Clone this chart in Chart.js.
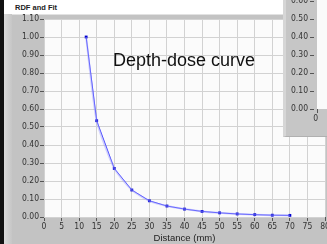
<!DOCTYPE html>
<html>
<head>
<meta charset="utf-8">
<script src="https://cdn.jsdelivr.net/npm/chart.js@4"></script>
<style>
  html, body { margin: 0; padding: 0; }
  body { width: 327px; height: 244px; overflow: hidden; position: relative; background: #fff; }
  #frame { position: absolute; left: 4px; top: 14px; width: 340px; height: 230px; background: #c3c3c3;
           border-top: 1px solid #e2e2e2; box-sizing: border-box; }
  #bevel { position: absolute; left: 4px; top: 14px; width: 8px; height: 230px;
           background: linear-gradient(to right, #dadada, #c6c6c6); }
  #black { position: absolute; left: 0; top: 0; width: 4px; height: 244px; background: #111; }
  #title { position: absolute; left: 15px; top: 4px; font: bold 7.5px 'Liberation Sans', Arial, sans-serif;
           line-height: 8px; color: #222; }
  #wrap { position: absolute; left: 0; top: 0; width: 340px; height: 244px; }
  #note { position: absolute; left: 113px; top: 51px; font: 18px 'Liberation Sans', Arial, sans-serif;
          line-height: 18px; color: #111; white-space: nowrap; }
  #panel { position: absolute; left: 283px; top: 0; width: 44px; height: 137px; background: #c6c6c6;
           border-left: 3px solid #d6d6d6; border-bottom: 1px solid #b0b0b0; box-sizing: border-box; }
  #panelPlot { position: absolute; left: 317px; top: 0; width: 10px; height: 109px; background: #fafafa; }
  .plab { position: absolute; width: 40px; text-align: right; color: #333;
          font: 8.5px 'Liberation Sans Narrow', 'DejaVu Sans Condensed', sans-serif; line-height: 9px; }
  .pdash { position: absolute; width: 4px; height: 1px; background: #555; }
</style>
</head>
<body>
<div id="black"></div>
<div id="frame"></div>
<div id="bevel"></div>
<div id="title">RDF and Fit</div>
<div id="wrap"><canvas id="chart" width="340" height="244"></canvas></div>
<div id="note">Depth-dose curve</div>
<div id="panel"></div>
<div id="panelPlot"></div>
<div id="panelTicks"></div>
<script>
// measured depth-dose points
const distance = [12, 15, 20, 25, 30, 35, 40, 45, 50, 55, 60, 65, 70];
const dose = [1.00, 0.535, 0.27, 0.15, 0.09, 0.061, 0.044, 0.031, 0.023, 0.017, 0.013, 0.010, 0.009];
// tick labels of the window peeking in at top right
const sideTicks = ['0.60', '0.50', '0.40', '0.30', '0.20', '0.10', '0.00'];

const TICK_FONT = { family: "'Liberation Sans Narrow', 'DejaVu Sans Condensed', sans-serif", size: 8.5 };

const plotBg = {
    id: 'plotBg',
    beforeDraw(chart) {
        const { ctx, chartArea: a } = chart;
        ctx.save();
        ctx.fillStyle = '#fbfbfb';
        ctx.fillRect(a.left, a.top, a.right - a.left, a.bottom - a.top);
        ctx.restore();
    }
};

const points = distance.map((d, i) => ({ x: d, y: dose[i] }));

new Chart(document.getElementById('chart'), {
    type: 'line',
    data: {
        datasets: [
            {
                label: 'Fit',
                data: points,
                borderColor: 'rgba(160, 160, 255, 0.45)',
                borderWidth: 2,
                pointRadius: 0,
                tension: 0.2
            },
            {
                label: 'RDF',
                data: points,
                borderColor: '#3a3aff',
                borderWidth: 1,
                pointStyle: 'rect',
                pointRadius: 2,
                pointBackgroundColor: '#0000d0',
                pointBorderColor: '#0000d0',
                pointBorderWidth: 0,
                tension: 0
            }
        ]
    },
    options: {
        responsive: false,
        animation: false,
        events: [],
        layout: { padding: { top: 19, right: 15, left: 0, bottom: 0 } },
        plugins: { legend: { display: false }, tooltip: { enabled: false } },
        scales: {
            x: {
                type: 'linear',
                min: 0, max: 80,
                ticks: { stepSize: 5, color: '#333', font: TICK_FONT, padding: 1, maxRotation: 0, autoSkip: false },
                grid: { color: '#d2d2d2', tickColor: '#555', tickLength: 4 },
                border: { display: false },
                title: {
                    display: true, text: 'Distance (mm)', color: '#222',
                    font: { family: "'Liberation Sans', Arial, sans-serif", size: 9.5 },
                    padding: { top: 0, bottom: 0 }
                },
                afterFit(scale) { scale.height = 27; scale.paddingLeft = 0; scale.paddingRight = 0; }
            },
            y: {
                min: 0, max: 1.1,
                ticks: { stepSize: 0.1, color: '#333', font: TICK_FONT, padding: 1,
                         callback: v => v.toFixed(2) },
                grid: { color: '#d2d2d2', tickColor: '#555', tickLength: 4 },
                border: { display: false },
                afterFit(scale) { scale.width = 44; }
            }
        }
    },
    plugins: [plotBg]
});

// side panel ticks
const holder = document.getElementById('panelTicks');
sideTicks.forEach((t, i) => {
    const y = 1 + i * 18;
    const lab = document.createElement('div');
    lab.className = 'plab';
    lab.style.left = '268px';
    lab.style.top = (y - 5) + 'px';
    lab.textContent = t;
    holder.appendChild(lab);
    const dash = document.createElement('div');
    dash.className = 'pdash';
    dash.style.left = '310px';
    dash.style.top = y + 'px';
    holder.appendChild(dash);
});
const zero = document.createElement('div');
zero.className = 'plab';
zero.style.left = '278px';
zero.style.top = '114px';
zero.textContent = '0';
holder.appendChild(zero);
const ztick = document.createElement('div');
ztick.className = 'pdash';
ztick.style.left = '317px';
ztick.style.top = '109px';
ztick.style.width = '1px';
ztick.style.height = '4px';
holder.appendChild(ztick);
</script>
</body>
</html>
